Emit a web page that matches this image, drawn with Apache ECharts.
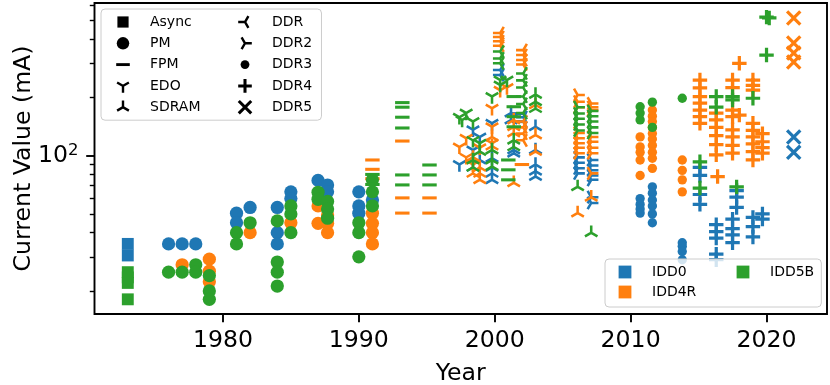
<!DOCTYPE html>
<html>
<head>
<meta charset="utf-8">
<script src="https://cdn.jsdelivr.net/npm/echarts@6/dist/echarts.min.js"></script>
<style>
html,body{margin:0;padding:0;background:#fff;}
#chart{width:830px;height:385px;}
</style>
</head>
<body>
<div id="chart"></div>
<script>
// ---- data: [year, current mA] ----
var asyncIdd0 = [[1973,35],[1973,30.5]];
var asyncIdd4r = [];
var asyncIdd5b = [[1973,25],[1973,23.5],[1973,22],[1973,18.1]];

var pmIdd0 = [[1976,35],[1977,35],[1978,35],[1981,50.4],[1981,45],[1982,54],[1984,54],[1984,40],[1984,35],[1985,65],[1985,60],[1987,74.5],[1987.7,70.5],[1987.7,65],[1990,65],[1990,55],[1990,50.4],[1991,59]];
var pmIdd4r = [[1977,27.3],[1979,29.2],[1979,25.3],[1979,22.3],[1982,40],[1985,45],[1987,55],[1987,44.7],[1987.7,49.4],[1987.7,44.7],[1987.7,40],[1991,50.4],[1991,44.7],[1991,40],[1991,35]];
var pmIdd5b = [[1976,25],[1977,25],[1978,27.3],[1978,25],[1979,24],[1979,20],[1979,18.1],[1981,40],[1981,35],[1982,45],[1984,46],[1984,28.2],[1984,25],[1984,21.2],[1985,55],[1985,50],[1985,40],[1987,64.7],[1987,59.5],[1987.7,58],[1987.7,53],[1987.7,47.5],[1990,45],[1990,40],[1990,30],[1991,75],[1991,65],[1991,55]];

var fpmIdd0 = [[2001.8,165],[2001.8,150]];
var fpmIdd4r = [[1991,95],[1991,85],[1991,76],[1993.2,119],[1993.2,60.5],[1993.2,50.5],[1995.2,60.5],[1995.2,50.5],[2002,90]];
var fpmIdd5b = [[1991,80],[1991,71],[1993.2,188],[1993.2,178],[1993.2,158],[1993.2,139],[1993.2,79.5],[1993.2,70.6],[1995.2,89.5],[1995.2,79.5],[1995.2,70.6],[2001.4,202],[2001.4,179],[2001.4,159],[2001.4,141],[2001,95],[2001,84.5],[2001,75]];

var edoIdd0 = [[1997.4,90],[1998.4,136],[1998.9,125],[1998.4,107],[1999.8,147]];
var edoIdd4r = [[1997.4,111],[1997.9,123],[1997.9,98],[1998.4,90],[1998.9,110],[1999.8,176],[1999.8,141],[1999.8,116],[2000.4,218],[2000.9,225]];
var edoIdd5b = [[1997.4,158],[1997.6,153],[1997.9,166],[1998.4,150],[1998.4,120],[1998.9,116],[1999.8,202],[2000.4,246],[2000.4,232],[2000.9,246]];

var sdramIdd0 = [[1998.4,87],[1998.9,95],[1999.8,97],[1999.8,87],[1999.8,81],[1999.8,75],[2001.2,166],[2001.2,153],[2001.4,107],[2001.4,103],[2003,141],[2003,107],[2003,90],[2003,83],[2003,78]];
var sdramIdd4r = [[1998.4,98],[1998.4,81],[1998.9,87],[1998.9,81],[1998.9,75],[1999.8,125],[1999.8,112],[2001.4,153],[2001.4,141],[2001.4,131],[2001.4,72.5],[2003,183],[2003,128],[2003,105],[2006.1,50.5],[2007.1,61]];
var sdramIdd5b = [[1998.4,95],[1998.4,87],[1998.9,105],[1999.8,107],[1999.8,95],[1999.8,88],[2001.4,120],[2001.4,111],[2003,207],[2003,190],[2003,175],[2006.1,69],[2007.1,40]];

var ddrIdd0 = [[2000.4,277],[2000.4,261],[2002.1,158],[2002.1,150]];
var ddrIdd4r = [[2000.4,430],[2000.4,410],[2000.4,390],[2000.4,370],[2002.1,351],[2002.1,331],[2002.1,312],[2002.1,296],[2002.1,150],[2002.1,140],[2002.1,130],[2002.1,120]];
var ddrIdd5b = [[2000.4,345],[2000.4,318],[2000.4,300],[2002.1,266],[2002.1,245],[2002.1,225],[2002.1,202],[2002.1,185],[2002.1,166]];

var ddr2Idd0 = [[2006.1,98],[2006.1,92],[2006.1,86],[2006.1,81],[2007.1,95],[2007.1,89],[2007.1,84],[2007.1,79],[2007.1,75],[2007.1,61],[2007.1,57]];
var ddr2Idd4r = [[2006.1,206],[2006.1,190],[2006.1,178],[2006.1,131],[2006.1,123],[2006.1,116],[2006.1,110],[2006.1,103],[2007.1,186],[2007.1,178],[2007.1,172],[2007.1,125],[2007.1,118],[2007.1,110],[2007.1,103],[2007.1,81]];
var ddr2Idd5b = [[2006.1,178],[2006.1,165],[2006.1,155],[2006.1,145],[2006.1,135],[2007.1,170],[2007.1,160],[2007.1,150],[2007.1,140],[2007.1,131]];

var ddr3Idd0 = [[2010.7,60],[2010.7,56],[2010.7,53],[2010.7,50.5],[2011.6,69],[2011.6,64],[2011.6,59],[2011.6,55],[2011.6,50],[2011.6,45],[2013.8,35.5],[2013.8,34],[2013.8,32],[2013.8,29]];
var ddr3Idd4r = [[2010.7,125],[2010.7,111],[2010.7,104],[2010.7,95],[2010.7,79],[2011.6,172],[2011.6,160],[2011.6,150],[2011.6,140],[2011.6,130],[2011.6,122],[2011.6,113],[2011.6,104],[2011.6,97],[2011.6,86],[2013.8,95],[2013.8,84],[2013.8,75],[2013.8,65]];
var ddr3Idd5b = [[2010.7,179],[2010.7,166],[2010.7,153],[2011.6,189],[2011.6,140],[2013.8,198]];

var ddr4Idd0 = [[2015.1,87],[2015.1,79],[2015.1,63],[2015.1,56],[2016.3,44],[2016.3,40.5],[2016.3,37.5],[2016.3,31],[2016.3,29],[2017.5,47],[2017.5,42],[2017.5,39],[2017.5,35.5],[2017.8,66],[2017.8,61],[2017.8,54],[2019,48],[2019,43],[2019,38],[2019.7,50],[2019.7,47]];
var ddr4Idd4r = [[2015.1,246],[2015.1,224],[2015.1,202],[2015.1,187],[2015.1,172],[2015.1,159],[2015.1,147],[2016.3,166],[2016.3,153],[2016.3,140],[2016.3,127],[2016.3,114],[2016.3,101],[2016.4,78],[2017.5,246],[2017.5,225],[2017.5,172],[2017.5,159],[2017.5,136],[2017.5,125],[2017.5,113],[2017.5,103],[2018,300],[2018,162],[2019,246],[2019,231],[2019,218],[2019,147],[2019,135],[2019,125],[2019,115],[2019,105],[2019,95],[2019.7,130],[2019.7,118],[2019.7,110],[2019.7,103]];
var ddr4Idd5b = [[2015.1,93],[2015.1,68],[2016.3,202],[2016.3,178],[2017.5,202],[2017.5,194],[2017.8,69],[2019,198],[2020,520],[2020.2,515],[2020,331]];

var ddr5Idd0 = [[2022,125],[2022,104]];
var ddr5Idd4r = [[2022,515],[2022,382],[2022,339],[2022,305]];
var ddr5Idd5b = [];

var types = ['Async','PM','FPM','EDO','SDRAM','DDR','DDR2','DDR3','DDR4','DDR5'];
var metrics = ['IDD0','IDD4R','IDD5B'];
var colors = {IDD0:'#1f77b4', IDD4R:'#ff7f0e', IDD5B:'#2ca02c'};
var data = {
	Async:[asyncIdd0,asyncIdd4r,asyncIdd5b],
	PM:[pmIdd0,pmIdd4r,pmIdd5b],
	FPM:[fpmIdd0,fpmIdd4r,fpmIdd5b],
	EDO:[edoIdd0,edoIdd4r,edoIdd5b],
	SDRAM:[sdramIdd0,sdramIdd4r,sdramIdd5b],
	DDR:[ddrIdd0,ddrIdd4r,ddrIdd5b],
	DDR2:[ddr2Idd0,ddr2Idd4r,ddr2Idd5b],
	DDR3:[ddr3Idd0,ddr3Idd4r,ddr3Idd5b],
	DDR4:[ddr4Idd0,ddr4Idd4r,ddr4Idd5b],
	DDR5:[ddr5Idd0,ddr5Idd4r,ddr5Idd5b]
};
var xTicks = [1980,1990,2000,2010,2020];
var yMajor = [100];
var yMinor = [20,30,40,50,60,70,80,90,200,300,400,500,600];

// ---- marker shapes (box -10..10 so every marker keeps its relative size) ----
var BOX = 'M-10,-10 M10,10 ';
function arms(angles, len, hw, back) {
	var d = '';
	angles.forEach(function (a) {
		var r = a * Math.PI / 180, cx = Math.cos(r), sy = Math.sin(r), nx = -sy, ny = cx;
		var p = [
			[-back*cx + nx*hw, -back*sy + ny*hw],
			[len*cx + nx*hw, len*sy + ny*hw],
			[len*cx - nx*hw, len*sy - ny*hw],
			[-back*cx - nx*hw, -back*sy - ny*hw]
		];
		d += 'M' + p.map(function (q) { return q[0].toFixed(2) + ',' + q[1].toFixed(2); }).join('L') + 'Z ';
	});
	return d;
}
function circle(r) {
	return 'M' + (-r) + ',0A' + r + ',' + r + ',0,1,0,' + r + ',0A' + r + ',' + r + ',0,1,0,' + (-r) + ',0Z';
}
var SYM = {
	Async: 'path://' + BOX + 'M-7,-7L7,-7L7,7L-7,7Z',
	PM: 'path://' + BOX + circle(7.8),
	FPM: 'path://' + BOX + 'M-8.5,-1.8L8.5,-1.8L8.5,1.8L-8.5,1.8Z',
	EDO: 'path://' + BOX + arms([90,210,330], 8.5, 1.5, 1.5),
	SDRAM: 'path://' + BOX + arms([270,30,150], 8.5, 1.5, 1.5),
	DDR: 'path://' + BOX + arms([180,300,60], 8.5, 1.5, 1.5),
	DDR2: 'path://' + BOX + arms([0,120,240], 8.5, 1.5, 1.5),
	DDR3: 'path://' + BOX + circle(5.5),
	DDR4: 'path://' + BOX + arms([0,90], 8.5, 1.9, 8.5),
	DDR5: 'path://' + BOX + arms([45,135], 11, 1.9, 11)
};
var SQUARE = 'path://' + BOX + 'M-8,-8L8,-8L8,8L-8,8Z';

var myChart = echarts.init(document.getElementById('chart'), null, {renderer: 'canvas'});

var series = [];
metrics.forEach(function (m, mi) {
	types.forEach(function (t) {
		series.push({
			type: 'scatter',
			name: t,
			data: data[t][mi],
			symbol: SYM[t],
			symbolSize: 17,
			itemStyle: {color: colors[m], opacity: 1},
			emphasis: {disabled: true}
		});
	});
});
// empty series that only feed the colour legend
metrics.forEach(function (m) {
	series.push({type: 'scatter', name: m, data: [], symbol: SQUARE, itemStyle: {color: colors[m], opacity: 1}});
});

var font = 'DejaVu Sans';
function typeItems(list) {
	return list.map(function (t) { return {name: t, icon: SYM[t], itemStyle: {color: '#000', opacity: 1}}; });
}
function metricItems(list) {
	return list.map(function (m) { return {name: m, icon: SQUARE, itemStyle: {color: colors[m], opacity: 1}}; });
}
var legendText = {
	fontFamily: font, fontSize: 14, color: '#000',
	rich: {t: {fontFamily: font, fontSize: 14, color: '#000', padding: [0, 0, 0, 14]}}
};
function legendFmt(name) { return '{t|' + name + '}'; }
var frame = {backgroundColor: 'rgba(255,255,255,0.8)', borderColor: '#cccccc', borderWidth: 1, borderRadius: 4};

var option = {
	animation: false,
	backgroundColor: '#fff',
	grid: {left: 94.5, right: 3, top: 3, bottom: 71, outerBoundsMode: 'none',
		show: true, borderColor: '#000', borderWidth: 1.9},
	legend: [
		// marker legend, left column carries the frame for both columns
		Object.assign({
			orient: 'vertical', left: 101, top: 9,
			itemWidth: 16, itemHeight: 16, itemGap: 5.3,
			padding: [5, 121, 5, 14],
			selectedMode: false, formatter: legendFmt, textStyle: legendText,
			data: typeItems(types.slice(0, 5))
		}, frame),
		{
			orient: 'vertical', left: 237, top: 14,
			itemWidth: 16, itemHeight: 16, itemGap: 5.3, padding: 0,
			selectedMode: false, formatter: legendFmt, textStyle: legendText,
			data: typeItems(types.slice(5))
		},
		// colour legend
		Object.assign({
			orient: 'vertical', left: 605, top: 259,
			itemWidth: 16, itemHeight: 16, itemGap: 4,
			padding: [5, 125, 7, 12],
			selectedMode: false, formatter: legendFmt, textStyle: legendText,
			data: metricItems(['IDD0','IDD4R'])
		}, frame),
		{
			orient: 'vertical', left: 735, top: 264,
			itemWidth: 16, itemHeight: 16, itemGap: 4, padding: 0,
			selectedMode: false, formatter: legendFmt, textStyle: legendText,
			data: metricItems(['IDD5B'])
		}
	],
	xAxis: {
		type: 'value', min: 1970.55, max: 2024.45,
		axisLine: {show: false}, splitLine: {show: false},
		axisTick: {show: true, customValues: xTicks, length: 8.3, lineStyle: {color: '#000', width: 1.9}},
		axisLabel: {customValues: xTicks, fontFamily: font, fontSize: 23.6, color: '#000', margin: 15,
			formatter: function (v) { return String(v); }},
		name: 'Year', nameLocation: 'middle', nameGap: 48, nameMoveOverlap: false,
		nameTextStyle: {fontFamily: font, fontSize: 23.6, color: '#000'}
	},
	yAxis: [
		{
			type: 'log', logBase: 10, min: 15.2, max: 615,
			axisLine: {show: false}, splitLine: {show: false},
			axisTick: {show: true, customValues: yMajor, length: 8.3, lineStyle: {color: '#000', width: 1.9}},
			axisLabel: {
				customValues: yMajor, fontFamily: font, fontSize: 23.6, color: '#000', margin: 16,
				formatter: function (v) { return '10{sup|' + Math.round(Math.log10(v)) + '}'; },
				rich: {sup: {fontFamily: font, fontSize: 16.5, color: '#000', verticalAlign: 'top', padding: [0, 0, 10, 0]}}
			},
			name: 'Current Value (mA)', nameLocation: 'middle', nameGap: 59, nameMoveOverlap: false,
			nameTextStyle: {fontFamily: font, fontSize: 23.6, color: '#000'}
		},
		{
			type: 'log', logBase: 10, min: 15.2, max: 615, position: 'left',
			axisLine: {show: false}, splitLine: {show: false}, axisLabel: {show: false},
			axisTick: {show: true, customValues: yMinor, length: 4.7, lineStyle: {color: '#000', width: 1.4}}
		}
	],
	series: series
};

myChart.setOption(option);
</script>
</body>
</html>
